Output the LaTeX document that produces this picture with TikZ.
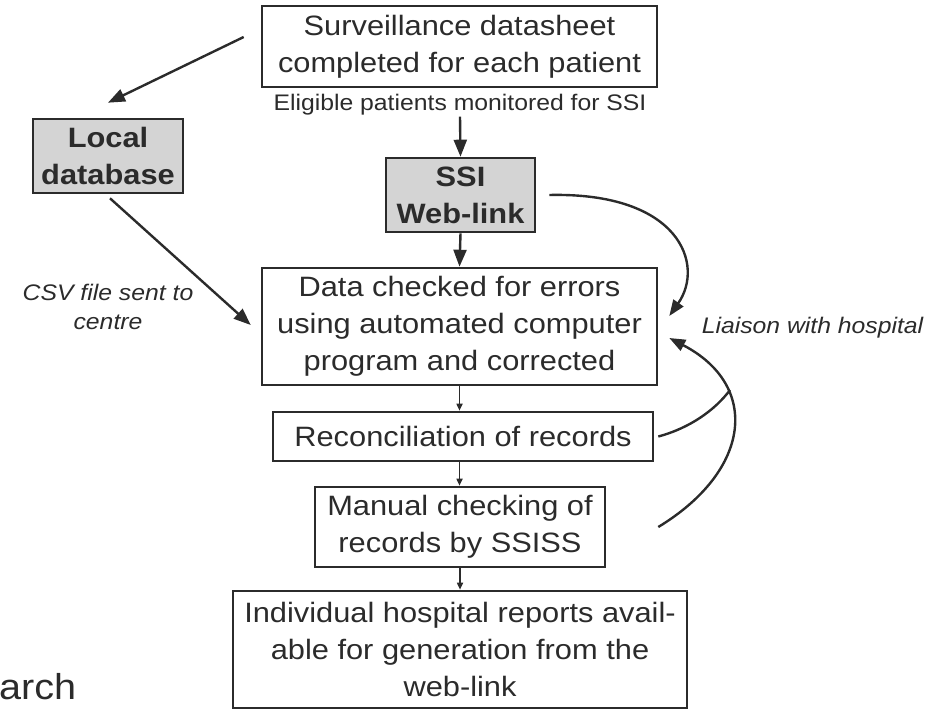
\documentclass[tikz,border=0pt]{standalone}
\usepackage{fontspec}
\setmainfont[FakeStretch=1.1]{Liberation Sans}
\usetikzlibrary{arrows.meta}
\definecolor{txt}{HTML}{2B2B2B}
\definecolor{boxfill}{HTML}{D4D4D4}
\begin{document}
\begin{tikzpicture}[x=1pt,y=-1pt,
  every node/.style={text=txt},
  flowbox/.style={draw=txt, line width=2.6pt, inner sep=0pt, align=center,
    font=\fontsize{28}{37}\selectfont},
  greybox/.style={flowbox, fill=boxfill, font=\fontsize{28}{37}\selectfont\bfseries},
  smalllab/.style={align=center, inner sep=1pt, font=\fontsize{22.5}{29}\selectfont},
  bigarrow/.style={draw=txt, line width=2.4pt, -{Triangle[length=17pt,width=13pt]}},
  tinyarrow/.style={draw=txt, line width=1.6pt, -{Triangle[length=7pt,width=6pt]}},
  curvearrow/.style={draw=txt, line width=2.4pt, -{Triangle[length=16pt,width=12pt]}},
  plainline/.style={draw=txt, line width=2.4pt}]
\useasboundingbox (0,0) rectangle (949,711);

\node[flowbox, minimum width=395pt, minimum height=81pt] (surv) at (459.5,46.5)
  {Surveillance datasheet\\completed for each patient};
\node[smalllab] (elig) at (460,105) {Eligible patients monitored for SSI};
\node[greybox, minimum width=149pt, minimum height=74pt] (ssi) at (460.5,195)
  {SSI\\Web-link};
\node[greybox, minimum width=150pt, minimum height=74pt] (local) at (108,156)
  {Local\\database};
\node[flowbox, minimum width=395pt, minimum height=117pt] (data) at (459.5,326.5)
  {Data checked for errors\\using automated computer\\program and corrected};
\node[flowbox, minimum width=380pt, minimum height=49pt] (rec) at (463,436.5)
  {Reconciliation of records};
\node[flowbox, minimum width=290pt, minimum height=80pt] (man) at (460,527)
  {Manual checking of\\records by SSISS};
\node[flowbox, minimum width=454pt, minimum height=117pt] (ind) at (460,649.5)
  {Individual hospital reports avail-\\able for generation from the\\web-link};

\node[smalllab, font=\fontsize{22.5}{29}\selectfont\itshape] (csv) at (108,307)
  {CSV file sent to\\centre};
\node[smalllab, font=\fontsize{22.5}{29}\selectfont\itshape] (liaison) at (812.5,328)
  {Liaison with hospital};
\node[anchor=base west, inner sep=0pt, font=\fontsize{36}{40}\selectfont] (arch) at (-1,699) {arch};

% straight arrows
\draw[bigarrow] ([shift={(-17,-9.5)}]surv.west) -- ([shift={(0,-15)}]local.north);
\draw[bigarrow] ([shift={(2,4)}]local.south) -- ([shift={(-10,-1.5)}]data.west);
\draw[bigarrow] (elig.south) -- (ssi.north);
\draw[bigarrow] (ssi.south) -- (data.north);
\draw[tinyarrow] (data.south) -- (data.south |- rec.north);
\draw[tinyarrow] (data.south |- rec.south) -- (data.south |- man.north);
\draw[tinyarrow] (man.south) -- (ind.north);

% curved arrows
\draw[curvearrow] ([xshift=13]ssi.east) .. controls (680,192) and (705,265) .. ([shift={(11,-10.5)}]data.east);
\coordinate (join) at (730,390);
\draw[curvearrow] ([xshift=52]man.east) .. controls (752,470) and (760,385) .. ([shift={(11,11.5)}]data.east);
\draw[plainline] ([xshift=4]rec.east) .. controls (690,428) and (715,410) .. (join);
\end{tikzpicture}
\end{document}
